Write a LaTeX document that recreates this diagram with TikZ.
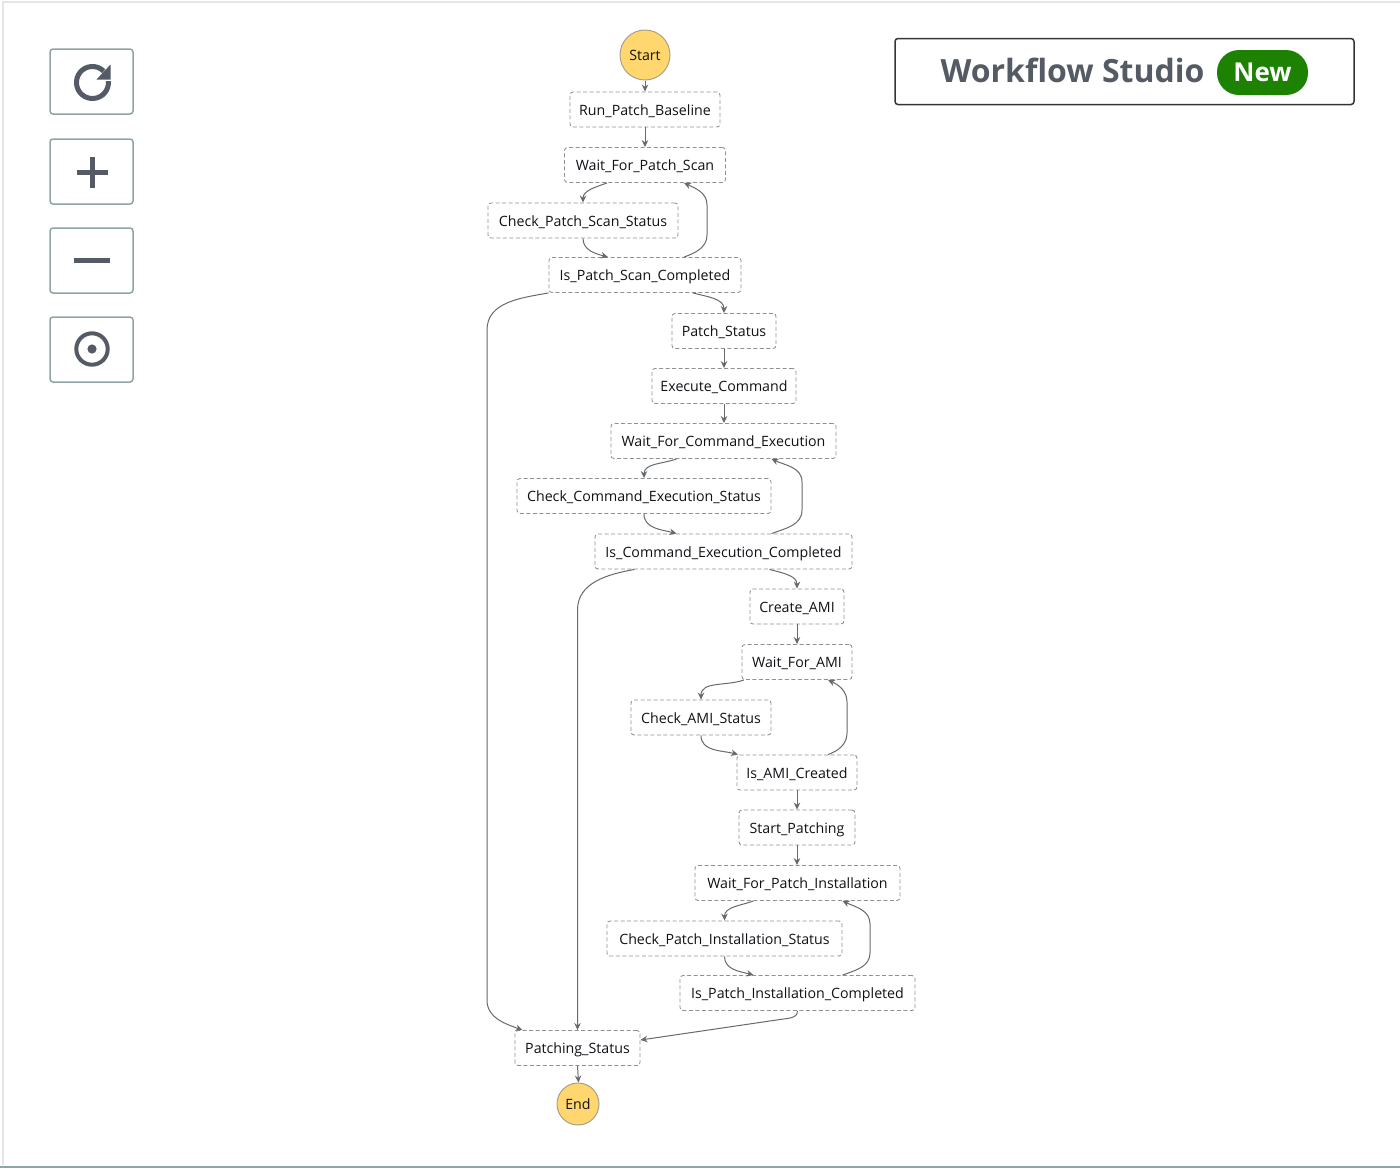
\documentclass[tikz,border=0pt]{standalone}
\usepackage{fontspec}
\setmainfont{Open Sans}
\usepackage{xcolor}
\usetikzlibrary{arrows.meta,shapes.geometric}
\definecolor{inkdark}{HTML}{0F1216}
\definecolor{iconslate}{HTML}{545B64}
\definecolor{btnedge}{HTML}{8FA5A5}
\definecolor{stateedge}{HTML}{8D9196}
\definecolor{flowline}{HTML}{666A6E}
\definecolor{termfill}{HTML}{FFD76E}
\definecolor{termedge}{HTML}{A8A08A}
\definecolor{newgreen}{HTML}{1D8102}
\tikzset{
  statebox/.style={rectangle, rounded corners=3pt, draw=stateedge, line width=0.9pt, dash pattern=on 4pt off 2.5pt, fill=white, text=inkdark, inner xsep=0pt, inner ysep=0pt, text height=11pt, text depth=0pt, minimum height=35pt, font=\fontsize{14.2}{18}\selectfont},
  termnode/.style={circle, fill=termfill, draw=termedge, line width=1pt, text=inkdark, inner sep=0pt, font=\fontsize{14.2}{18}\selectfont},
  toolbtn/.style={rectangle, rounded corners=3pt, draw=btnedge, line width=1.5pt, fill=white, minimum width=83pt, minimum height=65pt},
  glyph/.style={draw=iconslate, line width=5pt},
  flow/.style={draw=flowline, line width=1pt, -{Stealth[length=7pt,width=6.5pt]}},
  every edge/.style={flow},
}
\begin{document}
\begin{tikzpicture}[x=1pt, y=-1pt]
\useasboundingbox (0,0) rectangle (1400,1168);
\fill[white] (0,0) rectangle (1400,1168);
% frame of the screenshot
\draw[gray!20, line width=1.5pt] (3,1165) -- (3,2) -- (1400,2);
\draw[btnedge, line width=2pt] (0,1166.5) -- (1400,1166.5);
% toolbar
\node[toolbtn] (reload) at (91.5,81.5) {};
\node[toolbtn] (zoomin) at (91.5,171.5) {};
\node[toolbtn] (zoomout) at (91.5,260.5) {};
\node[toolbtn] (center) at (91.5,349.5) {};
\draw[glyph] (108.4,81.1) arc (-5:315:16);
\fill[iconslate] (110.5,64.5) -- (110.5,79.5) -- (96.5,79.5) -- cycle;
\draw[glyph] (76.5,172) -- (108,172);
\draw[glyph] (92.3,156.5) -- (92.3,187.5);
\draw[glyph] (73.5,260) -- (110,260);
\draw[iconslate, line width=4pt] (92,349) circle (15.7);
\fill[iconslate] (92,349) circle (4.6);
% banner
\node[rectangle, rounded corners=3pt, draw=inkdark!85, line width=1.5pt, fill=white, minimum width=459pt, minimum height=66pt] (banner) at (1124.5,71.5) {};
\node[text=iconslate, inner sep=0pt, font=\fontsize{32}{36}\selectfont\bfseries] (studio) at (1072.5,70.5) {Workflow Studio};
\node[rectangle, rounded corners=22pt, fill=newgreen, minimum width=91pt, minimum height=45pt] (newtag) at (1262.5,72.5) {};
\node[text=white, inner sep=0pt, font=\fontsize{26}{30}\selectfont\bfseries] (newlabel) at (1262.5,72) {New};
% states
\node[termnode, minimum size=50pt] (begin) at (645,55) {Start};
\node[statebox, minimum width=150pt] (runbaseline) at (645,109.5) {Run\_Patch\_Baseline};
\node[statebox, minimum width=161pt] (waitscan) at (645,165) {Wait\_For\_Patch\_Scan};
\node[statebox, minimum width=190pt] (checkscan) at (583,220.5) {Check\_Patch\_Scan\_Status};
\node[statebox, minimum width=192pt] (isscan) at (645,275) {Is\_Patch\_Scan\_Completed};
\node[statebox, minimum width=104pt] (patchstatus) at (724,331) {Patch\_Status};
\node[statebox, minimum width=144pt] (execcmd) at (724,386) {Execute\_Command};
\node[statebox, minimum width=225pt] (waitcmd) at (723.5,441) {Wait\_For\_Command\_Execution};
\node[statebox, minimum width=254pt] (checkcmd) at (644,496) {Check\_Command\_Execution\_Status};
\node[statebox, minimum width=257pt] (iscmd) at (723.5,551.5) {Is\_Command\_Execution\_Completed};
\node[statebox, minimum width=94pt] (createami) at (797,606.5) {Create\_AMI};
\node[statebox, minimum width=110pt] (waitami) at (797,662) {Wait\_For\_AMI};
\node[statebox, minimum width=140pt] (checkami) at (701,717.5) {Check\_AMI\_Status};
\node[statebox, minimum width=120pt] (isami) at (797,772.5) {Is\_AMI\_Created};
\node[statebox, minimum width=116pt] (startpatch) at (797,827.5) {Start\_Patching};
\node[statebox, minimum width=205pt] (waitinst) at (797.5,883) {Wait\_For\_Patch\_Installation};
\node[statebox, minimum width=235pt] (checkinst) at (724.5,938.5) {Check\_Patch\_Installation\_Status};
\node[statebox, minimum width=235pt] (isinst) at (797.5,993) {Is\_Patch\_Installation\_Completed};
\node[statebox, minimum width=125pt] (patching) at (577.5,1048) {Patching\_Status};
\node[termnode, minimum size=42pt] (finish) at (578,1104) {End};
% bends of the long connectors
\coordinate (railtop) at (487,330);
\coordinate (railbot) at (487,1000);
\coordinate (midrail) at (577.5,610);
\coordinate (scanlow) at (707,235);
\coordinate (scanhigh) at (707,205);
\coordinate (cmdlow) at (802,510);
\coordinate (cmdhigh) at (802,482);
\coordinate (amilow) at (847,733);
\coordinate (amihigh) at (847,702);
\coordinate (instlow) at (870,953);
\coordinate (insthigh) at (870,924);
\coordinate (instbend) at (780,1019.5);
% straight steps
\path (begin.south) edge (runbaseline.north)
(runbaseline.south) edge (waitscan.north)
(patchstatus.south) edge (execcmd.north)
(execcmd.south) edge ([xshift=0.5]waitcmd.north)
(createami.south) edge (waitami.north)
(isami.south) edge (startpatch.north)
(startpatch.south) edge ([xshift=-0.5]waitinst.north)
(patching.south) edge ([xshift=0.5]finish.north);
% wait and check loops
\path ([xshift=-38]waitscan.south) edge [out=200, in=90] (checkscan.north)
(checkscan.south) edge [out=-90, in=165] ([xshift=-37]isscan.north)
([xshift=48]isscan.south) edge [out=-15, in=90] (patchstatus.north)
([xshift=-47]waitcmd.south) edge [out=200, in=90] (checkcmd.north)
(checkcmd.south) edge [out=-90, in=165] ([xshift=-47]iscmd.north)
([xshift=46]iscmd.south) edge [out=-15, in=90] (createami.north)
([xshift=-53]waitami.south) edge [out=200, in=90] (checkami.north)
(checkami.south) edge [out=-90, in=165] ([xshift=-59]isami.north)
([xshift=-44]waitinst.south) edge [out=200, in=90] (checkinst.north)
(checkinst.south) edge [out=-90, in=165] ([xshift=-44]isinst.north);
\draw[flow] ([xshift=39]isscan.north) to [out=20, in=-90] (scanlow) -- (scanhigh) to [out=90, in=-25] ([xshift=39]waitscan.south);
\draw[flow] ([xshift=48]iscmd.north) to [out=20, in=-90] (cmdlow) -- (cmdhigh) to [out=90, in=-25] ([xshift=48]waitcmd.south);
\draw[flow] ([xshift=31]isami.north) to [out=20, in=-90] (amilow) -- (amihigh) to [out=90, in=-25] ([xshift=31]waitami.south);
\draw[flow] ([xshift=45]isinst.north) to [out=20, in=-90] (instlow) -- (insthigh) to [out=90, in=-25] ([xshift=45]waitinst.south);
% joins into the last state
\draw[flow] (isscan.south west) to [out=190, in=90] (railtop) -- (railbot) to [out=-90, in=160] ([xshift=-55]patching.north);
\draw[flow] ([xshift=-89]iscmd.south) to [out=190, in=90] (midrail) -- (patching.north);
\draw[flow] (isinst.south) to [out=-90, in=10] (instbend) -- ([yshift=8]patching.east);
\end{tikzpicture}
\end{document}
